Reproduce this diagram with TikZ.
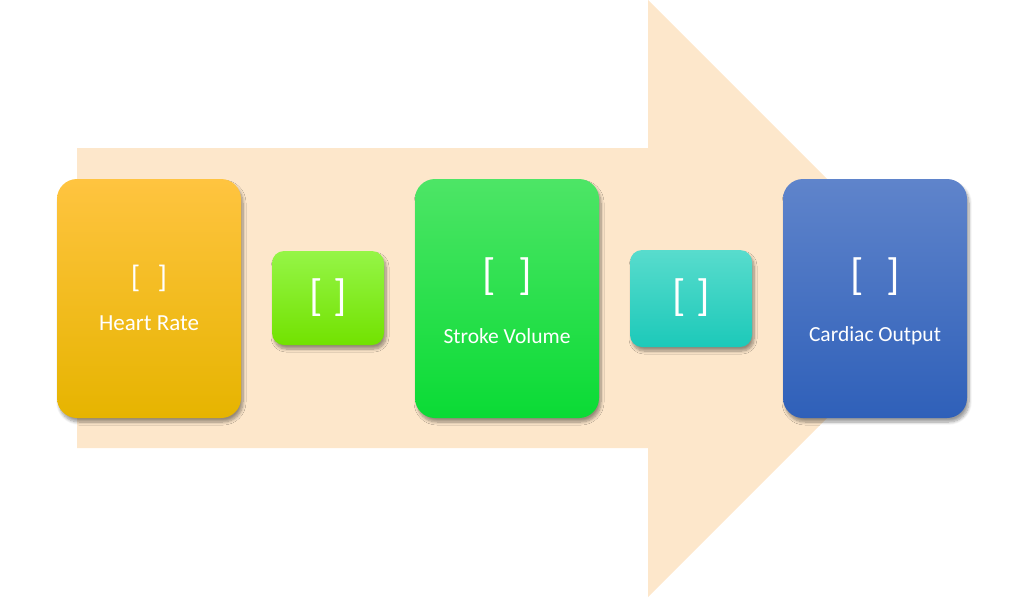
\documentclass[tikz,border=0pt]{standalone}
\usepackage{fontspec}
\setmainfont{Carlito}
\usetikzlibrary{shadows.blur}
\definecolor{arrowfill}{HTML}{FDE7CB}
\definecolor{hrtop}{HTML}{FFC440}
\definecolor{hrmid}{HTML}{FFC505}
\definecolor{hrbot}{HTML}{E6B400}
\definecolor{gtop}{HTML}{95F547}
\definecolor{gmid}{HTML}{88FC12}
\definecolor{gbot}{HTML}{72E200}
\definecolor{svtop}{HTML}{4DE566}
\definecolor{svmid}{HTML}{20E24A}
\definecolor{svbot}{HTML}{0ADB35}
\definecolor{ttop}{HTML}{58DCCD}
\definecolor{tmid}{HTML}{33D9CA}
\definecolor{tbot}{HTML}{1CC9B9}
\definecolor{cotop}{HTML}{5F84CB}
\definecolor{comid}{HTML}{4472C6}
\definecolor{cobot}{HTML}{2F60B9}
\tikzset{
  shd/.style={blur shadow={shadow xshift=2pt, shadow yshift=-4pt, shadow blur steps=8, shadow opacity=40, shadow blur radius=3pt}},
  box/.style={shd, rounded corners=20pt, minimum width=184pt, minimum height=239pt, inner sep=0pt},
  smallbox/.style={shd, rounded corners=12pt, inner sep=0pt},
  brk/.style={text=white, font=\fontsize{44}{44}\selectfont, inner sep=0pt},
  smallbrk/.style={text=white, font=\fontsize{31}{31}\selectfont, inner sep=0pt},
  lbl/.style={text=white, font=\fontsize{21.5}{24}\selectfont, inner sep=0pt},
  hrlbl/.style={text=white, font=\fontsize{23}{26}\selectfont, inner sep=0pt}
}
\begin{document}
\begin{tikzpicture}[x=1pt,y=-1pt]
\useasboundingbox (0,0) rectangle (1024,597);
\fill[arrowfill] (77,148) -- (648,148) -- (648,0) -- (946.5,298.5) -- (648,597) -- (648,448) -- (77,448) -- cycle;
\node[box, top color=hrtop, middle color=hrmid, bottom color=hrbot] (hr) at (149,298.5) {};
\node[smallbox, minimum width=112pt, minimum height=94pt, top color=gtop, middle color=gmid, bottom color=gbot] (g1) at (328,298) {};
\node[box, top color=svtop, middle color=svmid, bottom color=svbot] (sv) at (507,298.5) {};
\node[smallbox, minimum width=122pt, minimum height=97pt, top color=ttop, middle color=tmid, bottom color=tbot] (t1) at (691,298.5) {};
\node[box, top color=cotop, middle color=comid, bottom color=cobot] (co) at (875,298.5) {};
\node[smallbrk] (hrb) at (149,278) {[\hspace{0.55em}]};
\node[hrlbl] (hrl) at (149,323) {Heart Rate};
\node[brk] (g1b) at (328,298) {[\hspace{0.25em}]};
\node[brk] (svb) at (507,276.5) {[\hspace{0.5em}]};
\node[lbl] (svl) at (507,336) {Stroke Volume};
\node[brk] (t1b) at (691,298) {[\hspace{0.25em}]};
\node[brk] (cob) at (875,276.5) {[\hspace{0.5em}]};
\node[lbl] (col) at (875,336) {Cardiac Output};
\end{tikzpicture}
\end{document}
